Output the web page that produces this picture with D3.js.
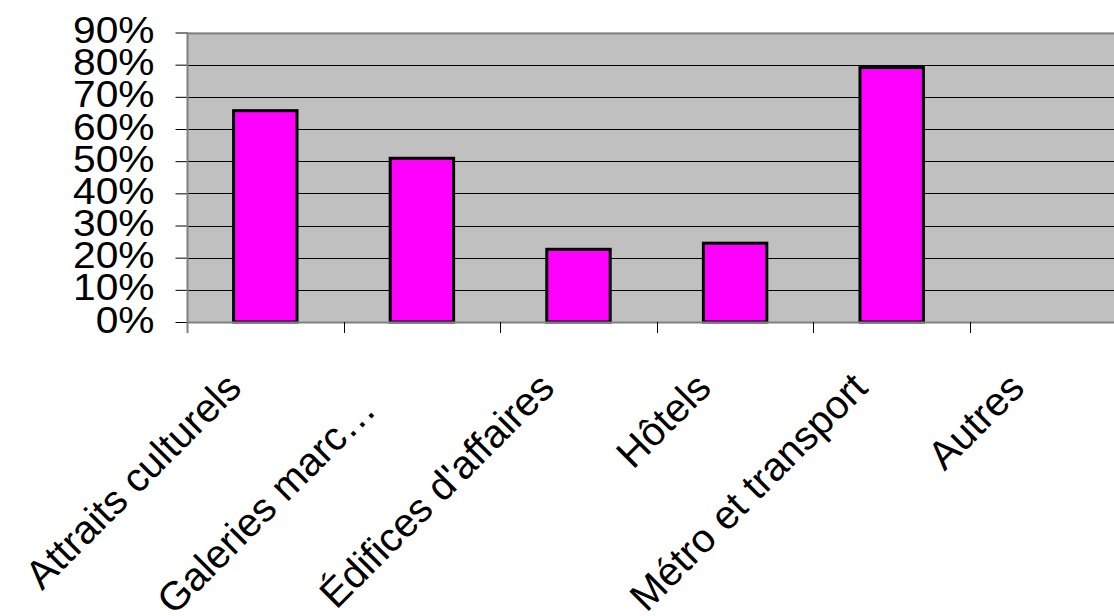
<!DOCTYPE html>
<html>
<head>
<meta charset="utf-8">
<script src="https://cdn.jsdelivr.net/npm/d3@7"></script>
<style>
  html, body { margin: 0; padding: 0; background: #fff; overflow: hidden; }
  svg { display: block; font-family: "Liberation Sans", Arial, Helvetica, sans-serif; }
</style>
</head>
<body>
<svg id="chart" width="1114" height="616"></svg>
<script>
// ---- data ----
const categories = ["Attraits culturels", "Galeries marc\u2026", "\u00C9difices d'affaires", "H\u00F4tels", "M\u00E9tro et transport", "Autres"];
const values = [0.657, 0.509, 0.226, 0.245, 0.791, null];
const yTicks = [0, 0.1, 0.2, 0.3, 0.4, 0.5, 0.6, 0.7, 0.8, 0.9];

// ---- layout ----
const plotLeft = 187, plotTop = 32.5, plotBottom = 322, step = 156.6;
const plotRight = plotLeft + categories.length * step;

const svg = d3.select("#chart");

const x = d3.scaleBand().domain(categories).range([plotLeft, plotRight]).padding(0);
const y = d3.scaleLinear().domain([0, 0.9]).range([plotBottom, plotTop]);

// plot area background
svg.append("rect")
  .attr("x", plotLeft).attr("y", plotTop)
  .attr("width", plotRight - plotLeft).attr("height", plotBottom - plotTop)
  .attr("fill", "#C0C0C0");

// gridlines
svg.append("g").selectAll("line")
  .data(yTicks.filter(d => d > 0 && d < 0.9))
  .join("line")
  .attr("x1", plotLeft).attr("x2", plotRight)
  .attr("y1", d => Math.round(y(d)) + 0.5).attr("y2", d => Math.round(y(d)) + 0.5)
  .attr("stroke", "#000").attr("stroke-width", 1);

// top border
svg.append("line")
  .attr("x1", plotLeft).attr("x2", plotRight)
  .attr("y1", Math.round(plotTop) + 0.5).attr("y2", Math.round(plotTop) + 0.5)
  .attr("stroke", "#808080").attr("stroke-width", 2);

// bars
const barW = x.bandwidth() * 0.405;
svg.append("g").selectAll("rect")
  .data(categories.map((c, i) => ({ c, v: values[i] })).filter(d => d.v != null && d.v > 0))
  .join("rect")
  .attr("x", d => x(d.c) + x.bandwidth() / 2 - barW / 2)
  .attr("y", d => y(d.v))
  .attr("width", barW)
  .attr("height", d => y(0) - y(d.v))
  .attr("fill", "#FF00FF")
  .attr("stroke", "#000")
  .attr("stroke-width", 3);

// y axis
const yAxis = d3.axisLeft(y)
  .tickValues(yTicks)
  .tickFormat(d3.format(".0%"))
  .tickSize(12)
  .tickPadding(21);
const gy = svg.append("g").attr("transform", `translate(${plotLeft + 0.5},0)`).call(yAxis);
gy.select(".domain").remove();
gy.selectAll(".tick line").attr("stroke", "#000");
gy.selectAll(".tick text")
  .attr("fill", "#000")
  .attr("font-size", 37)
  .attr("x", 0)
  .attr("transform", "translate(-33,0) scale(1.1,1)")
  .attr("dy", "0.27em")
  .style("font-family", "'Liberation Sans', Arial, sans-serif");

// x axis line
svg.append("line")
  .attr("x1", plotLeft).attr("x2", plotRight)
  .attr("y1", plotBottom + 0.5).attr("y2", plotBottom + 0.5)
  .attr("stroke", "#808080").attr("stroke-width", 2);

// y axis line (extends to bottom of x ticks)
svg.append("line")
  .attr("x1", plotLeft + 0.5).attr("x2", plotLeft + 0.5)
  .attr("y1", plotTop).attr("y2", plotBottom + 11)
  .attr("stroke", "#808080").attr("stroke-width", 2);

// x ticks at category boundaries
svg.append("g").selectAll("line")
  .data(categories.slice(1))
  .join("line")
  .attr("x1", d => Math.round(x(d)) + 0.5).attr("x2", d => Math.round(x(d)) + 0.5)
  .attr("y1", plotBottom).attr("y2", plotBottom + 11)
  .attr("stroke", "#000").attr("stroke-width", 1);

// x labels rotated -45
svg.append("g").selectAll("text")
  .data(categories)
  .join("text")
  .attr("transform", d => `translate(${x(d) + x.bandwidth() / 2 - 22},390) rotate(-45)`)
  .attr("text-anchor", "end")
  .attr("dx", d => d.endsWith("\u2026") ? -31 : 0)
  .attr("font-size", 40)
  .attr("fill", "#000")
  .text(d => d);
</script>
</body>
</html>
